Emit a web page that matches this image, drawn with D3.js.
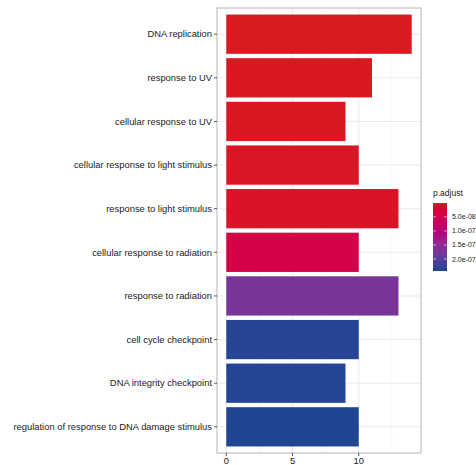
<!DOCTYPE html>
<meta charset="UTF-8">
<style>
  body { margin: 0; background-color: #fff; }
  text { font-family: "Liberation Sans", Arial, sans-serif; }
</style>
<svg xmlns="http://www.w3.org/2000/svg" width="476" height="465"></svg>
<script src="https://d3js.org/d3.v7.min.js"></script>
<script>
  const terms = [
    'DNA replication',
    'response to UV',
    'cellular response to UV',
    'cellular response to light stimulus',
    'response to light stimulus',
    'cellular response to radiation',
    'response to radiation',
    'cell cycle checkpoint',
    'DNA integrity checkpoint',
    'regulation of response to DNA damage stimulus'
  ];
  const counts = [14, 11, 9, 10, 13, 10, 13, 10, 9, 10];
  const padj = [1.0e-09, 2.0e-09, 3.0e-09, 4.0e-09, 5.0e-09, 4.2e-08, 1.72e-07, 2.38e-07, 2.40e-07, 2.42e-07];
  const xTicks = [0, 5, 10];
  const legendTicks = [5e-08, 1e-07, 1.5e-07, 2e-07];

  const panel = { left: 217, right: 421, top: 8, bottom: 453 };

  const svg = d3.select('svg');

  const x = d3.scaleLinear()
    .domain([-0.7, 14.7])
    .range([panel.left, panel.right]);

  // discrete axis with ggplot-style 0.6 expansion
  const yPos = d3.scaleLinear()
    .domain([0.4, 10.6])
    .range([panel.top, panel.bottom]);
  const bandH = yPos(1) - yPos(0);

  const pMin = d3.min(padj), pMax = d3.max(padj);
  const color = d3.scaleLinear()
    .domain([pMin, pMax])
    .range(['#D81B21', '#1F4593'])
    .interpolate(d3.interpolateHcl);

  // panel grid
  const g = svg.append('g');
  g.append('rect')
    .attr('x', panel.left).attr('y', panel.top)
    .attr('width', panel.right - panel.left)
    .attr('height', panel.bottom - panel.top)
    .attr('fill', '#fff');

  [2.5, 7.5, 12.5].forEach(v => {
    g.append('line')
      .attr('x1', x(v)).attr('x2', x(v))
      .attr('y1', panel.top).attr('y2', panel.bottom)
      .attr('stroke', '#f2f2f2').attr('stroke-width', 0.6);
  });
  xTicks.forEach(v => {
    g.append('line')
      .attr('x1', x(v)).attr('x2', x(v))
      .attr('y1', panel.top).attr('y2', panel.bottom)
      .attr('stroke', '#ebebeb').attr('stroke-width', 1.1);
  });
  terms.forEach((t, i) => {
    g.append('line')
      .attr('x1', panel.left).attr('x2', panel.right)
      .attr('y1', yPos(i + 1)).attr('y2', yPos(i + 1))
      .attr('stroke', '#ebebeb').attr('stroke-width', 1.1);
  });

  // bars
  svg.selectAll('rect.bar')
    .data(terms)
    .enter().append('rect').classed('bar', true)
      .attr('x', x(0))
      .attr('y', (_, i) => yPos(i + 1) - bandH * 0.45)
      .attr('width', (_, i) => x(counts[i]) - x(0))
      .attr('height', bandH * 0.9)
      .attr('fill', (_, i) => color(padj[i]));

  // panel border
  svg.append('rect')
    .attr('x', panel.left).attr('y', panel.top)
    .attr('width', panel.right - panel.left)
    .attr('height', panel.bottom - panel.top)
    .attr('fill', 'none')
    .attr('stroke', '#b3b3b3').attr('stroke-width', 1);

  // y axis labels and ticks
  terms.forEach((t, i) => {
    const y = yPos(i + 1);
    svg.append('line')
      .attr('x1', panel.left - 3).attr('x2', panel.left)
      .attr('y1', y).attr('y2', y)
      .attr('stroke', '#333').attr('stroke-width', 0.8);
    svg.append('text')
      .attr('x', panel.left - 5).attr('y', y)
      .attr('dy', '0.35em')
      .attr('text-anchor', 'end')
      .attr('font-size', 9.4)
      .attr('fill', '#1a1a1a')
      .text(t);
  });

  // x axis
  xTicks.forEach(v => {
    svg.append('line')
      .attr('x1', x(v)).attr('x2', x(v))
      .attr('y1', panel.bottom).attr('y2', panel.bottom + 3)
      .attr('stroke', '#333').attr('stroke-width', 0.8);
    svg.append('text')
      .attr('x', x(v)).attr('y', panel.bottom + 11)
      .attr('text-anchor', 'middle')
      .attr('font-size', 9.4)
      .attr('fill', '#1a1a1a')
      .text(v);
  });

  // legend
  const lg = { x: 433, top: 203, bottom: 271, w: 14 };
  const ly = d3.scaleLinear().domain([pMin, pMax]).range([lg.top, lg.bottom]);
  const defs = svg.append('defs');
  const grad = defs.append('linearGradient')
    .attr('id', 'pgrad').attr('x1', 0).attr('x2', 0).attr('y1', 0).attr('y2', 1);
  d3.range(0, 1.0001, 0.1).forEach(s => {
    grad.append('stop')
      .attr('offset', s)
      .attr('stop-color', color(pMin + s * (pMax - pMin)));
  });
  svg.append('text')
    .attr('x', lg.x).attr('y', 196)
    .attr('font-size', 8.5)
    .attr('fill', '#1a1a1a')
    .text('p.adjust');
  svg.append('rect')
    .attr('x', lg.x).attr('y', lg.top)
    .attr('width', lg.w).attr('height', lg.bottom - lg.top)
    .attr('fill', 'url(#pgrad)');
  legendTicks.forEach(v => {
    const y = ly(v);
    [[lg.x, lg.x + 3], [lg.x + lg.w - 3, lg.x + lg.w]].forEach(([a, b]) => {
      svg.append('line')
        .attr('x1', a).attr('x2', b)
        .attr('y1', y).attr('y2', y)
        .attr('stroke', '#fff').attr('stroke-width', 0.6);
    });
    svg.append('text')
      .attr('x', lg.x + lg.w + 5).attr('y', y)
      .attr('dy', '0.35em')
      .attr('font-size', 7)
      .attr('fill', '#1a1a1a')
      .text(d3.format('.1e')(v).replace(/e([+-])(\d)$/, 'e$10$2'));
  });
</script>
